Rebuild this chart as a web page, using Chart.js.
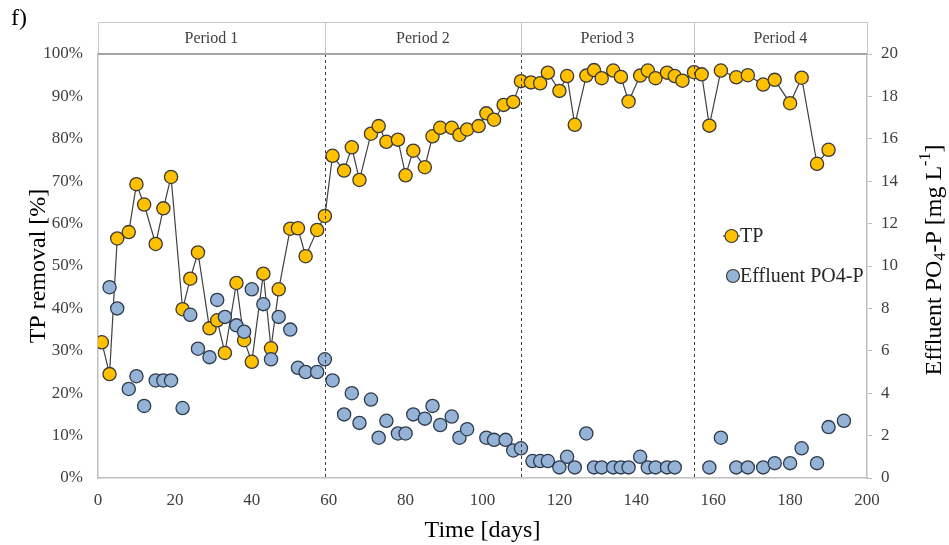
<!DOCTYPE html>
<html>
<head>
<meta charset="utf-8">
<script src="https://cdn.jsdelivr.net/npm/chart.js@4"></script>
<style>
html, body { margin: 0; padding: 0; background: #fff; }
</style>
</head>
<body>
<canvas id="grafico" width="949" height="545"></canvas>
<script>
// TP removal (%) - dia e valor
const diasTP = [1, 3, 5, 8, 10, 12, 15, 17, 19, 22, 24, 26, 29, 31, 33, 36, 38, 40, 43, 45, 47, 50, 52, 54, 57, 59,
    61, 64, 66, 68, 71, 73, 75, 78, 80, 82, 85, 87, 89, 92, 94, 96, 99, 101, 103, 105.5, 108,
    110, 112.6, 115, 117, 120, 122, 124, 127, 129, 131, 134, 136, 138, 141, 143, 145, 148, 150, 152,
    155, 157, 159, 162, 166, 169, 173, 176, 180, 183, 187, 190];
const remocaoTP = [32, 24.5, 56.5, 58, 69.3, 64.5, 55.2, 63.6, 71, 39.8, 47, 53.2, 35.3, 37.2, 29.5, 46, 32.5, 27.4, 48.2, 30.6, 44.5, 58.8, 58.9, 52.3, 58.5, 61.8,
    76, 72.5, 78, 70.3, 81.2, 83, 79.3, 79.8, 71.4, 77.2, 73.3, 80.6, 82.6, 82.6, 80.9, 82.2, 83, 86, 84.5, 88, 88.7,
    93.6, 93.3, 93.1, 95.6, 91.3, 94.8, 83.3, 94.9, 96.2, 94.3, 96.1, 94.6, 88.8, 94.9, 96.1, 94.3, 95.6, 94.8, 93.7,
    95.7, 95.2, 83.1, 96.1, 94.5, 95, 92.8, 93.9, 88.4, 94.4, 74.1, 77.4];

// Effluent PO4-P (mg/L)
const diasPO4 = [3, 5, 8, 10, 12, 15, 17, 19, 22, 24, 26, 29, 31, 33, 36, 38, 40, 43, 45, 47, 50, 52, 54, 57, 59,
    61, 64, 66, 68, 71, 73, 75, 78, 80, 82, 85, 87, 89, 92, 94, 96, 101, 103, 106, 108,
    110, 113, 115, 117, 120, 122, 124, 127, 129, 131, 134, 136, 138, 141, 143, 145, 148, 150,
    159, 162, 166, 169, 173, 176, 180, 183, 187, 190, 194];
const efluentePO4 = [9.0, 8.0, 4.2, 4.8, 3.4, 4.6, 4.6, 4.6, 3.3, 7.7, 6.1, 5.7, 8.4, 7.6, 7.2, 6.9, 8.9, 8.2, 5.6, 7.6, 7.0, 5.2, 5.0, 5.0, 5.6,
    4.6, 3.0, 4.0, 2.6, 3.7, 1.9, 2.7, 2.1, 2.1, 3.0, 2.8, 3.4, 2.5, 2.9, 1.9, 2.3, 1.9, 1.8, 1.8, 1.3,
    1.4, 0.8, 0.8, 0.8, 0.5, 1.0, 0.5, 2.1, 0.5, 0.5, 0.5, 0.5, 0.5, 1.0, 0.5, 0.5, 0.5, 0.5,
    0.5, 1.9, 0.5, 0.5, 0.5, 0.7, 0.7, 1.4, 0.7, 2.4, 2.7];

const periodos = ['Period 1', 'Period 2', 'Period 3', 'Period 4'];
const limitesPeriodo = [59, 110, 155]; // dias onde muda o período

const serif = '"Liberation Serif", "Times New Roman", serif';
const corTP = '#FFC000';
const corPO4 = '#95B3D7';

// desenha a faixa dos períodos, linhas tracejadas, legenda e título da direita
const extras = {
    id: 'extras',
    afterDraw(chart) {
        const ctx = chart.ctx;
        const area = chart.chartArea;
        const x = chart.scales.x;
        ctx.save();

        // linhas tracejadas
        ctx.strokeStyle = '#404040';
        ctx.lineWidth = 1;
        ctx.setLineDash([3, 3]);
        limitesPeriodo.forEach(d => {
            const px = Math.round(x.getPixelForValue(d)) + 0.5;
            ctx.beginPath();
            ctx.moveTo(px, area.top);
            ctx.lineTo(px, area.bottom);
            ctx.stroke();
        });
        ctx.setLineDash([]);

        // faixa dos períodos
        const topo = 22;
        ctx.strokeStyle = '#c8c8c8';
        ctx.lineWidth = 1;
        ctx.strokeRect(area.left + 0.5, topo + 0.5, area.right - area.left, area.top - topo);
        const bordas = [x.min].concat(limitesPeriodo, [x.max]);
        for (let i = 1; i < bordas.length - 1; i++) {
            const px = Math.round(x.getPixelForValue(bordas[i])) + 0.5;
            ctx.beginPath();
            ctx.moveTo(px, topo);
            ctx.lineTo(px, area.top);
            ctx.stroke();
        }
        ctx.strokeStyle = '#a6a6a6';
        ctx.lineWidth = 2;
        ctx.beginPath();
        ctx.moveTo(area.left, area.top);
        ctx.lineTo(area.right, area.top);
        ctx.stroke();

        ctx.fillStyle = '#404040';
        ctx.font = '16px ' + serif;
        ctx.textAlign = 'center';
        ctx.textBaseline = 'middle';
        periodos.forEach((p, i) => {
            const meio = (x.getPixelForValue(bordas[i]) + x.getPixelForValue(bordas[i + 1])) / 2;
            ctx.fillText(p, meio, (topo + area.top) / 2 + 1);
        });

        // "f)"
        ctx.fillStyle = '#000';
        ctx.font = '24px ' + serif;
        ctx.textAlign = 'left';
        ctx.fillText('f)', 11, 19);

        // legenda
        ctx.font = '20px ' + serif;
        ctx.strokeStyle = '#404040';
        ctx.lineWidth = 1.2;
        ctx.beginPath();
        ctx.moveTo(723, 236);
        ctx.lineTo(740, 236);
        ctx.stroke();
        ctx.beginPath();
        ctx.arc(731.5, 236, 6.5, 0, Math.PI * 2);
        ctx.fillStyle = corTP;
        ctx.fill();
        ctx.strokeStyle = '#3a3a3a';
        ctx.stroke();
        ctx.fillStyle = '#262626';
        ctx.fillText('TP', 740, 237);

        ctx.beginPath();
        ctx.arc(733, 276, 6.5, 0, Math.PI * 2);
        ctx.fillStyle = corPO4;
        ctx.fill();
        ctx.stroke();
        ctx.fillStyle = '#262626';
        ctx.fillText('Effluent PO4-P', 740, 277);

        // título do eixo direito com subscrito e sobrescrito
        const partes = [
            { t: 'Effluent PO', f: 24, dy: 0 },
            { t: '4', f: 16, dy: 6 },
            { t: '-P [mg L', f: 24, dy: 0 },
            { t: '-1', f: 16, dy: -9 },
            { t: ']', f: 24, dy: 0 }
        ];
        let total = 0;
        partes.forEach(p => { ctx.font = p.f + 'px ' + serif; total += ctx.measureText(p.t).width; });
        ctx.translate(935, 260);
        ctx.rotate(-Math.PI / 2);
        ctx.fillStyle = '#000';
        ctx.textBaseline = 'middle';
        let pos = -total / 2;
        partes.forEach(p => {
            ctx.font = p.f + 'px ' + serif;
            ctx.fillText(p.t, pos, p.dy);
            pos += ctx.measureText(p.t).width;
        });

        ctx.restore();
    }
};

const contexto = document.getElementById('grafico').getContext('2d');
new Chart(contexto, {
    type: 'line',
    data: {
        datasets: [
            {
                label: 'Effluent PO4-P',
                data: diasPO4.map((d, i) => ({ x: d, y: efluentePO4[i] })),
                yAxisID: 'y2',
                showLine: false,
                pointRadius: 6.6,
                pointBackgroundColor: corPO4,
                pointBorderColor: '#2f3b4c',
                pointBorderWidth: 1.3,
                order: 0
            },
            {
                label: 'TP',
                data: diasTP.map((d, i) => ({ x: d, y: remocaoTP[i] })),
                yAxisID: 'y',
                borderColor: '#404040',
                borderWidth: 1.2,
                tension: 0,
                pointRadius: 6.6,
                pointBackgroundColor: corTP,
                pointBorderColor: '#3a3a3a',
                pointBorderWidth: 1.3,
                order: 1
            }
        ]
    },
    options: {
        responsive: false,
        animation: false,
        devicePixelRatio: 1,
        layout: { padding: { top: 54, left: 0, right: 0, bottom: 0 } },
        plugins: {
            legend: { display: false },
            tooltip: { enabled: false }
        },
        scales: {
            x: {
                type: 'linear',
                min: 0,
                max: 200,
                afterFit: s => { s.height = 67; },
                ticks: { stepSize: 20, font: { family: serif, size: 17 }, color: '#404040', padding: 12 },
                grid: { display: false, drawTicks: false },
                border: { display: true, color: '#bfbfbf', width: 1.5 },
                title: { display: true, text: 'Time [days]', font: { family: serif, size: 24 }, color: '#000', padding: { top: 3, bottom: 0 } }
            },
            y: {
                position: 'left',
                min: 0,
                max: 100,
                afterFit: s => { s.width = 98; },
                ticks: { stepSize: 10, callback: v => v + '%', font: { family: serif, size: 17 }, color: '#404040', padding: 15 },
                grid: { display: false, drawTicks: false },
                border: { display: true, color: '#bfbfbf', width: 1.5 },
                title: { display: true, text: 'TP removal [%]', font: { family: serif, size: 24 }, color: '#000', padding: { top: 24, bottom: 0 } }
            },
            y2: {
                position: 'right',
                min: 0,
                max: 20,
                afterFit: s => { s.width = 82; },
                ticks: { stepSize: 2, font: { family: serif, size: 17 }, color: '#404040', padding: 9 },
                grid: { display: true, drawOnChartArea: false, drawTicks: true, tickLength: 5, color: '#bfbfbf' },
                border: { display: true, color: '#bfbfbf', width: 1.5 }
            }
        }
    },
    plugins: [extras]
});
</script>
</body>
</html>
